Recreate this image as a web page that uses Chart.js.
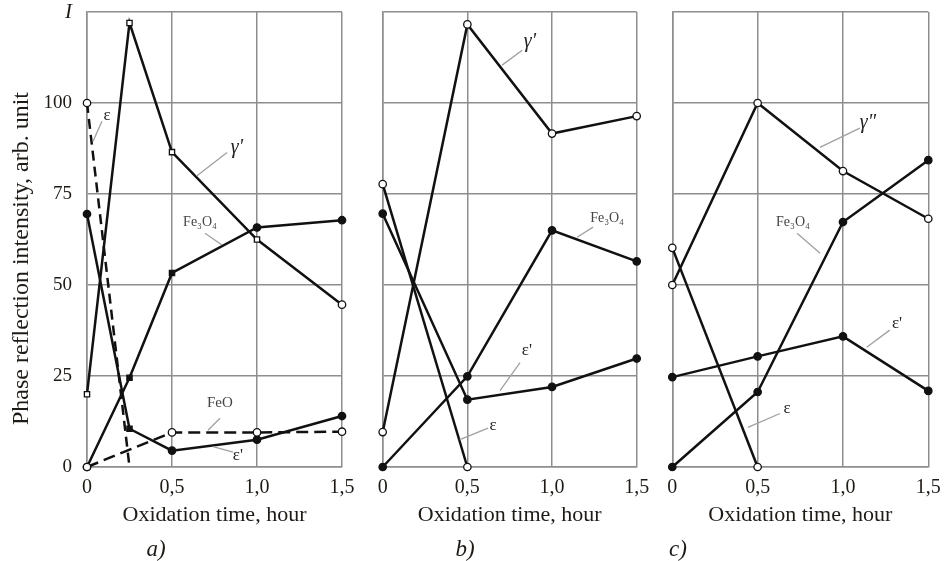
<!DOCTYPE html>
<html><head><meta charset="utf-8">
<script src="https://cdn.jsdelivr.net/npm/chart.js@4/dist/chart.umd.min.js"></script>
<style>
html,body{margin:0;padding:0;background:#fff;}
#wrap{position:relative;width:948px;height:561px;overflow:hidden;background:#fff;}
.pane{position:absolute;top:0;height:561px;}
</style></head><body>
<div id="wrap">
<div class="pane" style="left:0;width:360px"><canvas id="ca"></canvas></div>
<div class="pane" style="left:360px;width:290px"><canvas id="cb"></canvas></div>
<div class="pane" style="left:650px;width:298px"><canvas id="cc"></canvas></div>
</div>
<script>
// ---- tick labels ----
const xTickValues = [0, 0.5, 1.0, 1.5];
const xTickLabels = ['0', '0,5', '1,0', '1,5'];
const yTickValues = [0, 25, 50, 75, 100, 125];
const yTickLabels = ['0', '25', '50', '75', '100', 'I'];

// ---- panel a) ----
const aTime = [0, 0.25, 0.5, 1.0, 1.5];
const aGamma = [20, 122, 86.5, 62.5, 44.6];
const aEpsPrime = [69.5, 10.5, 4.5, 7.5, 14];
const aFe3O4 = [0, 24.5, 53.3, 65.8, 67.8];
const aEpsTime = [0, 0.25];
const aEps = [100, 0];
const aFeOTime = [0, 0.5, 1.0, 1.5];
const aFeO = [0, 9.5, 9.5, 9.7];

// ---- panel b) ----
const bTime = [0, 0.5, 1.0, 1.5];
const bGamma = [9.6, 121.6, 91.6, 96.4];
const bEpsPrime = [69.6, 18.5, 22, 29.8];
const bFe3O4 = [0, 24.9, 65, 56.5];
const bEpsTime = [0, 0.5];
const bEps = [77.7, 0];

// ---- panel c) ----
const cTime = [0, 0.5, 1.0, 1.5];
const cGamma = [50, 100, 81.3, 68.2];
const cEpsPrime = [24.7, 30.4, 35.9, 20.9];
const cFe3O4 = [0, 20.6, 67.3, 84.3];
const cEpsTime = [0, 0.5];
const cEps = [60.2, 0];

const SERIF = '"Liberation Serif", "Times New Roman", serif';
const TXT = '#1e1a16';
const GRID = '#8e8e8e';
const LINE = '#111';

function pts(xs, ys){ return ys.map((v,i)=>({x:xs[i], y:v})); }

function ds(label, xs, ys, opt){
  return Object.assign({
    label, data: pts(xs, ys), borderColor: LINE, borderWidth: 2.5, tension: 0,
    pointRadius: 3.7, pointBorderWidth: 1.3, pointBorderColor: LINE,
    pointBackgroundColor: LINE, pointStyle: 'circle', clip: false, fill: false
  }, opt||{});
}
const OPEN = {pointBackgroundColor:'#fff'};

const labelPlugin = {
  id: 'panelLabels',
  afterDatasetsDraw(chart, args, o){
    const ctx = chart.ctx, x = chart.scales.x, y = chart.scales.y;
    ctx.save();
    (o.items || []).forEach(it => {
      ctx.strokeStyle = '#a0a0a0'; ctx.lineWidth = 1.3;
      ctx.beginPath();
      ctx.moveTo(x.getPixelForValue(it.l[0]), y.getPixelForValue(it.l[1]));
      ctx.lineTo(x.getPixelForValue(it.l[2]), y.getPixelForValue(it.l[3]));
      ctx.stroke();
      ctx.font = it.font; ctx.fillStyle = it.color || '#222';
      ctx.textAlign = 'center'; ctx.textBaseline = 'middle';
      ctx.fillText(it.text, x.getPixelForValue(it.at[0]), y.getPixelForValue(it.at[1]));
    });
    if (o.yTitle) {
      ctx.save();
      ctx.translate(o.yTitle.x, o.yTitle.y);
      ctx.rotate(-Math.PI/2);
      ctx.font = '24px ' + SERIF; ctx.fillStyle = TXT;
      ctx.textAlign = 'center'; ctx.textBaseline = 'middle';
      ctx.fillText(o.yTitle.text, 0, 0);
      ctx.restore();
    }
    if (o.sub) {
      ctx.font = 'italic 23px ' + SERIF; ctx.fillStyle = TXT;
      ctx.textAlign = 'center'; ctx.textBaseline = 'middle';
      ctx.fillText(o.sub.text, o.sub.x, o.sub.y);
    }
    ctx.restore();
  }
};

function makeChart(id, datasets, conf){
  const showY = conf.showY;
  return new Chart(document.getElementById(id), {
    type: 'line',
    data: { datasets },
    plugins: [labelPlugin],
    options: {
      responsive: true, maintainAspectRatio: false, animation: false,
      layout: { padding: conf.padding },
      plugins: { legend: {display:false}, tooltip: {enabled:false}, panelLabels: conf.labels },
      scales: {
        x: {
          type: 'linear', min: 0, max: 1.5,
          afterFit: s => { s.height = 94; s.paddingLeft = 0; s.paddingRight = 0; },
          afterBuildTicks: s => { s.ticks = xTickValues.map(v => ({value:v})); },
          grid: { color: GRID, lineWidth: 1.5, drawTicks: false },
          border: { color: GRID, width: 1.5 },
          ticks: { autoSkip:false, maxRotation:0, padding: 9, color: TXT,
            font: {family: SERIF, size: 20},
            callback: (v) => xTickLabels[xTickValues.indexOf(v)] },
          title: { display: true, text: 'Oxidation time, hour', color: TXT,
            font: {family: SERIF, size: 22}, padding: {top: 0, bottom: 33} }
        },
        y: {
          type: 'linear', min: 0, max: 125,
          afterFit: s => { s.width = showY ? 87 : 0; s.paddingTop = 0; s.paddingBottom = 0; },
          afterBuildTicks: s => { s.ticks = yTickValues.map(v => ({value:v})); },
          grid: { color: GRID, lineWidth: 1.5, drawTicks: false },
          border: { color: GRID, width: 1.5 },
          ticks: { display: showY, padding: 15, color: TXT,
            font: (c) => (c.tick && c.tick.value === 125) ? {family: SERIF, size: 21, style: 'italic'} : {family: SERIF, size: 19},
            callback: (v) => yTickLabels[yTickValues.indexOf(v)] }
        }
      }
    }
  });
}

const F14 = '14px ' + SERIF, GR = 'italic 20px ' + SERIF, EP = '17px ' + SERIF;

makeChart('ca', [
  ds('ε', aEpsTime, aEps, Object.assign({borderDash:[10,6], pointRadius:[3.7,0]}, OPEN)),
  ds('FeO', aFeOTime, aFeO, Object.assign({borderDash:[12,6]}, OPEN)),
  ds("ε'", aTime, aEpsPrime, {pointStyle:['circle','rect','circle','circle','circle']}),
  ds('Fe₃O₄', aTime, aFe3O4, {pointStyle:['circle','rect','rect','circle','circle']}),
  ds("γ'", aTime, aGamma, Object.assign({pointStyle:['rect','rect','rect','rect','circle']}, OPEN))
], {
  showY: true, padding: {left:0, right:18, top:12, bottom:0},
  labels: {
    items: [
      {text:'ε', at:[0.118, 96.6], l:[0.088, 95.0, 0.035, 89.4], font: EP},
      {text:"γ'", at:[0.882, 87.8], l:[0.824, 86.4, 0.647, 80.0], font: GR},
      {text:'Fe₃O₄', at:[0.665, 67.2], l:[0.694, 64.2, 0.794, 61.0], font: F14, color:'#444'},
      {text:'FeO', at:[0.782, 17.5], l:[0.782, 13.4, 0.712, 10.1], font: '15px ' + SERIF, color:'#444'},
      {text:"ε'", at:[0.888, 3.2], l:[0.859, 4.1, 0.741, 5.6], font: EP}
    ],
    yTitle: {text: 'Phase reflection intensity, arb. unit', x: 21.5, y: 258.5},
    sub: {text: 'a)', x: 156, y: 550}
  }
});

makeChart('cb', [
  ds('ε', bEpsTime, bEps, OPEN),
  ds("ε'", bTime, bEpsPrime),
  ds('Fe₃O₄', bTime, bFe3O4),
  ds("γ'", bTime, bGamma, OPEN)
], {
  showY: false, padding: {left:22.7, right:13.3, top:12, bottom:0},
  labels: {
    items: [
      {text:"γ'", at:[0.869, 116.7], l:[0.824, 114.5, 0.705, 110.4], font: GR},
      {text:'Fe₃O₄', at:[1.325, 68.3], l:[1.242, 65.9, 1.148, 63.1], font: F14, color:'#444'},
      {text:"ε'", at:[0.852, 32.0], l:[0.811, 28.7, 0.693, 21.0], font: EP},
      {text:'ε', at:[0.652, 11.5], l:[0.622, 10.7, 0.455, 7.5], font: EP}
    ],
    sub: {text: 'b)', x: 105, y: 550}
  }
});

makeChart('cc', [
  ds('ε', cEpsTime, cEps, OPEN),
  ds("ε'", cTime, cEpsPrime),
  ds('Fe₃O₄', cTime, cFe3O4),
  ds("γ''", cTime, cGamma, OPEN)
], {
  showY: false, padding: {left:22.3, right:19.7, top:12, bottom:0},
  labels: {
    items: [
      {text:'γ"', at:[1.146, 94.7], l:[1.099, 93.1, 0.865, 87.8], font: GR},
      {text:'Fe₃O₄', at:[0.707, 67.2], l:[0.731, 64.2, 0.866, 58.7], font: F14, color:'#444'},
      {text:"ε'", at:[1.317, 39.5], l:[1.274, 37.6, 1.139, 32.9], font: EP},
      {text:'ε', at:[0.672, 16.1], l:[0.631, 14.7, 0.443, 10.9], font: EP}
    ],
    sub: {text: 'c)', x: 28, y: 550}
  }
});
</script>
</body></html>
